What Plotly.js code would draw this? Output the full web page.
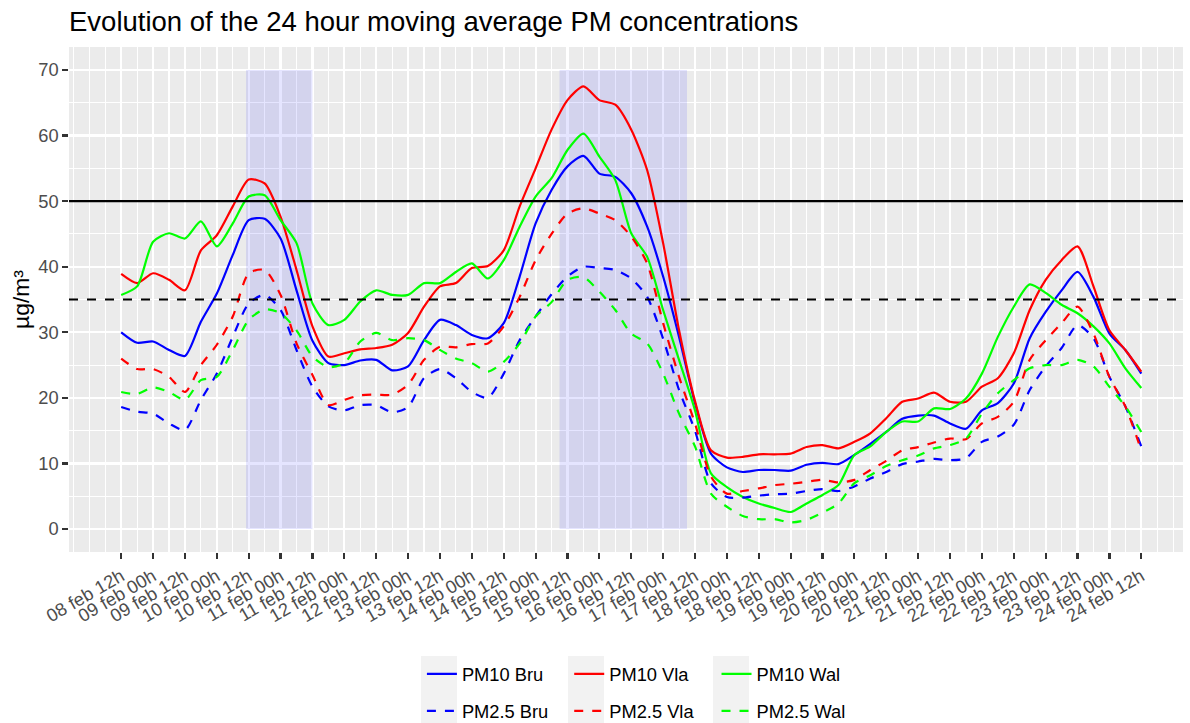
<!DOCTYPE html>
<html>
<head>
<meta charset="utf-8">
<script src="https://cdn.plot.ly/plotly-3.0.1.min.js"></script>
<style>
  html, body { margin: 0; padding: 0; background: #ffffff; }
  #chart { width: 1190px; height: 723px; }
</style>
</head>
<body>
<div id="chart"></div>
<script>
// ---- data (6-hourly readings, starting 08 feb 12h) ----
var startTime = '2021-02-08 12:00';
var stepHours = 6;
var pm10Bru = [30.0,28.4,28.6,27.3,26.4,31.6,35.9,41.8,47.1,47.3,44.3,36.4,28.7,25.3,25.0,25.7,25.8,24.2,24.8,28.8,31.9,31.1,29.6,29.1,31.4,38.5,46.6,51.7,55.3,56.9,54.2,53.7,51.2,46.1,38.5,29.3,19.2,11.5,9.4,8.7,9.0,9.0,8.9,9.8,10.1,9.9,11.3,13.0,14.8,16.8,17.3,17.3,16.1,15.3,18.1,19.2,22.2,29.1,33.1,36.4,39.2,35.4,29.8,27.3,23.7];
var pm10Vla = [38.9,37.5,39.0,38.0,36.4,42.5,44.8,49.2,53.3,52.7,47.6,39.5,30.9,26.3,26.8,27.4,27.6,28.1,29.9,33.9,37.0,37.5,39.8,40.1,42.5,49.2,55.0,60.9,65.4,67.5,65.4,64.7,60.9,54.7,43.6,30.3,19.5,12.0,10.9,11.0,11.4,11.4,11.5,12.5,12.8,12.3,13.3,14.6,16.9,19.4,19.9,20.8,19.4,19.4,21.7,23.0,26.8,33.4,38.0,41.0,43.1,37.0,30.3,27.3,24.0];
var pm10Wal = [35.7,37.0,43.8,45.1,44.3,46.9,43.1,46.6,50.7,50.9,47.1,43.6,34.4,31.1,31.9,34.7,36.4,35.7,35.7,37.5,37.5,39.2,40.5,38.2,41.0,46.1,50.7,53.5,57.8,60.3,56.8,53.2,45.1,41.5,33.4,25.8,18.1,8.5,6.4,4.9,3.9,3.2,2.6,3.9,5.2,6.7,11.3,12.6,14.8,16.4,16.4,18.4,18.3,19.9,23.7,29.3,33.9,37.3,36.0,34.2,32.9,30.9,28.3,24.5,21.5];
var pm25Bru = [18.6,17.9,17.6,16.1,15.1,19.7,23.7,29.3,34.4,35.7,33.4,27.3,21.7,18.7,18.1,18.9,18.9,17.8,18.6,23.0,24.4,23.0,20.9,20.0,23.7,28.8,32.4,35.8,38.5,40.0,39.8,39.5,38.2,35.4,29.0,21.2,15.0,7.0,4.9,4.8,5.1,5.3,5.4,5.8,6.1,5.8,6.5,7.7,8.7,9.9,10.3,10.7,10.5,10.8,13.3,14.1,15.9,21.2,24.8,27.6,31.1,29.1,23.2,18.7,12.6];
var pm25Vla = [26.0,24.4,24.4,23.2,20.9,25.0,28.1,32.4,39.0,39.5,35.7,28.3,23.5,18.9,19.7,20.4,20.5,20.5,22.0,25.8,27.8,27.7,28.2,28.3,30.9,35.4,41.0,45.0,48.1,48.9,48.1,47.1,44.6,40.5,31.4,23.2,16.1,8.0,5.4,5.8,6.2,6.7,6.9,7.2,7.5,7.1,7.5,9.0,10.4,12.0,12.5,13.2,13.8,13.7,16.1,17.1,19.4,25.8,28.8,31.4,33.9,29.8,23.2,18.7,12.0];
var pm25Wal = [20.9,20.6,21.6,20.9,19.7,22.7,23.2,27.3,31.9,33.5,32.9,30.3,26.3,24.7,25.3,28.6,29.9,28.8,29.1,28.8,27.3,26.0,25.3,24.0,25.5,28.3,32.4,34.6,38.0,38.4,36.2,33.4,29.8,28.3,23.7,17.6,12.6,5.4,3.4,2.0,1.5,1.5,1.0,1.4,2.5,3.9,7.0,8.2,9.6,10.5,11.2,12.3,12.8,13.8,17.6,20.7,22.7,24.5,25.0,25.0,25.8,24.8,21.7,18.7,14.8];

var seriesNames = ['PM10 Bru','PM10 Vla','PM10 Wal','PM2.5 Bru','PM2.5 Vla','PM2.5 Wal'];
var tickStart = '2021-02-08 12:00';
var tickEnd = '2021-02-24 12:00';
var monthLabel = 'feb';
var shadeStart = ['2021-02-10 11:00','2021-02-15 09:00'];
var shadeEnd   = ['2021-02-11 12:00','2021-02-17 09:00'];
var limitSolid = 50;
var limitDashed = 35;
var yTicks = [0,10,20,30,40,50,60,70];

// ---- helpers ----
function parseT(s){ var p = s.split(/[- :]/); return Date.UTC(+p[0], +p[1]-1, +p[2], +p[3], +p[4]); }
function pad(n){ return (n<10?'0':'')+n; }
function fmt(ms){ var d = new Date(ms); return d.getUTCFullYear()+'-'+pad(d.getUTCMonth()+1)+'-'+pad(d.getUTCDate())+' '+pad(d.getUTCHours())+':'+pad(d.getUTCMinutes()); }

var t0 = parseT(startTime);
var times = pm10Bru.map(function(_, i){ return fmt(t0 + i*stepHours*3600000); });

var tickVals = [], tickText = [];
for (var ms = parseT(tickStart); ms <= parseT(tickEnd); ms += 12*3600000) {
  var d = new Date(ms);
  tickVals.push(fmt(ms));
  tickText.push(pad(d.getUTCDate()) + ' ' + monthLabel + ' ' + pad(d.getUTCHours()) + 'h');
}

var colors = ['#0000FF','#FF0000','#00FF00'];
var allSeries = [pm10Bru, pm10Vla, pm10Wal, pm25Bru, pm25Vla, pm25Wal];
var traces = allSeries.map(function(vals, k){
  return {
    x: times, y: vals, type: 'scatter', mode: 'lines',
    name: seriesNames[k],
    legend: k < 3 ? 'legend' : 'legend2',
    line: { color: colors[k % 3], width: 2.2, dash: k < 3 ? 'solid' : 'dash', shape: 'spline', smoothing: 0.7 },
    hoverinfo: 'x+y+name'
  };
});

var shapes = [];
shadeStart.forEach(function(s, k){
  shapes.push({ type: 'rect', xref: 'x', yref: 'y', x0: s, x1: shadeEnd[k], y0: 0, y1: 70,
    fillcolor: 'rgba(0,0,255,0.1)', line: { width: 0 }, layer: 'between' });
});
shapes.push({ type: 'line', xref: 'paper', yref: 'y', x0: 0, x1: 1, y0: limitSolid, y1: limitSolid,
  line: { color: '#000000', width: 2.2 }, layer: 'above' });
shapes.push({ type: 'line', xref: 'paper', yref: 'y', x0: 0, x1: 1, y0: limitDashed, y1: limitDashed,
  line: { color: '#000000', width: 2.2, dash: 'dash' }, layer: 'above' });
// legend key backgrounds (ggplot style)
[[0.316,0.3483],[0.4479,0.4803],[0.5781,0.6104]].forEach(function(c){
  shapes.push({ type: 'rect', xref: 'paper', yref: 'paper', x0: c[0], x1: c[1], y0: -0.3386, y1: -0.2059,
    fillcolor: '#F2F2F2', line: { width: 0 }, layer: 'above' });
});

var tickFont = { family: 'Liberation Sans, Arial, sans-serif', size: 18.3, color: '#4D4D4D' };
var legendCommon = {
  orientation: 'h', xanchor: 'left', yanchor: 'middle',
  entrywidth: 102.3, entrywidthmode: 'pixels',
  font: { family: 'Liberation Sans, Arial, sans-serif', size: 18.3, color: '#000000' },
  bgcolor: 'rgba(0,0,0,0)', borderwidth: 0, tracegroupgap: 0
};

var layout = {
  width: 1190, height: 723,
  margin: { l: 69, r: 7, t: 47, b: 171, autoexpand: false },
  paper_bgcolor: '#FFFFFF', plot_bgcolor: '#EBEBEB',
  title: { text: 'Evolution of the 24 hour moving average PM concentrations',
    font: { family: 'Liberation Sans, Arial, sans-serif', size: 27.5, color: '#000000' },
    x: 0, xref: 'paper', xanchor: 'left', y: 1 - 21/723, yref: 'container', yanchor: 'middle' },
  xaxis: {
    type: 'date', range: ['2021-02-07 16:21', '2021-02-25 03:42'],
    tickmode: 'array', tickvals: tickVals, ticktext: tickText, tickangle: -30,
    tickfont: tickFont, ticks: 'outside', ticklen: 5.7, tickwidth: 2.2, tickcolor: '#333333',
    showgrid: true, gridcolor: '#FFFFFF', gridwidth: 2.2, zeroline: false, showline: false,
    minor: { tickmode: 'linear', tick0: '2021-02-08 06:00', dtick: 6*3600000, showgrid: true, gridcolor: '#FFFFFF', gridwidth: 1.1, ticks: '' },
    automargin: false
  },
  yaxis: {
    range: [-3.5, 73.5], tickmode: 'array', tickvals: yTicks,
    tickfont: tickFont, ticks: 'outside', ticklen: 5.7, tickwidth: 2.2, tickcolor: '#333333',
    showgrid: true, gridcolor: '#FFFFFF', gridwidth: 2.2, zeroline: false, showline: false,
    minor: { tickmode: 'linear', tick0: 5, dtick: 10, showgrid: true, gridcolor: '#FFFFFF', gridwidth: 1.1, ticks: '' },
    title: { text: 'µg/m³', font: { family: 'Liberation Sans, Arial, sans-serif', size: 22.9, color: '#000000' }, standoff: 2 },
    automargin: false
  },
  legend: Object.assign({ x: 0.3168, y: -0.2416 }, legendCommon),
  legend2: Object.assign({ x: 0.3168, y: -0.315 }, legendCommon),
  shapes: shapes,
  showlegend: true
};

Plotly.newPlot('chart', traces, layout, { displayModeBar: false, staticPlot: true });
</script>
</body>
</html>
